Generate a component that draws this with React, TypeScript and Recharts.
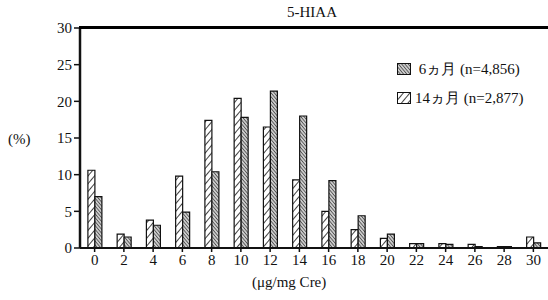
import { BarChart, Bar, XAxis, YAxis } from 'recharts'

// x categories (μg/mg Cre)
const categories = ['0', '2', '4', '6', '8', '10', '12', '14', '16', '18', '20', '22', '24', '26', '28', '30']
// 14ヵ月 (hatched, left bar)
const month14 = [10.6, 1.9, 3.8, 9.8, 17.4, 20.4, 16.5, 9.3, 5.0, 2.5, 1.3, 0.6, 0.6, 0.5, 0.2, 1.5]
// 6ヵ月 (dense, right bar)
const month6 = [7.0, 1.5, 3.1, 4.9, 10.4, 17.8, 21.4, 18.0, 9.2, 4.4, 1.9, 0.6, 0.5, 0.2, 0.2, 0.7]
const yTicks = [0, 5, 10, 15, 20, 25, 30]

const data = categories.map((c, i) => ({ cat: c, m14: month14[i], m6: month6[i] }))

const FONT = '"Liberation Serif", "DejaVu Serif", serif'

function LegendBox() {
  const row = { display: 'flex', alignItems: 'center', gap: 4, height: 20 }
  const swatch = { width: 14, height: 12 }
  return (
    <div style={{ position: 'absolute', left: 397, top: 59, fontFamily: FONT, fontSize: 15, color: '#111' }}>
      <div style={row}>
        <svg style={swatch}>
          <rect x={0.5} y={0.5} width={13} height={11} fill="url(#dense)" stroke="#111" />
        </svg>
        <span>&nbsp;6ヵ月 (n=4,856)</span>
      </div>
      <div style={{ ...row, marginTop: 9 }}>
        <svg style={swatch}>
          <rect x={0.5} y={0.5} width={13} height={11} fill="url(#hatch)" stroke="#111" />
        </svg>
        <span>14ヵ月 (n=2,877)</span>
      </div>
    </div>
  )
}

export default function App() {
  return (
    <div style={{ position: 'absolute', left: 0, top: 0, width: 548, height: 300, background: '#fff', fontFamily: FONT }}>
      <BarChart
        width={548}
        height={300}
        data={data}
        margin={{ top: 28, right: 0, bottom: 22, left: 0 }}
        barCategoryGap="27%"
        barGap={0}
        style={{ borderTop: 'none' }}
      >
        <defs>
          <pattern id="hatch" patternUnits="userSpaceOnUse" width={5} height={5} patternTransform="rotate(40)">
            <rect width={5} height={5} fill="#fff" />
            <line x1={0} y1={0} x2={0} y2={5} stroke="#111" strokeWidth={1.6} />
          </pattern>
          <pattern id="dense" patternUnits="userSpaceOnUse" width={2.5} height={2.5} patternTransform="rotate(-40)">
            <rect width={2.5} height={2.5} fill="#ccc" />
            <line x1={0} y1={0} x2={0} y2={2.5} stroke="#222" strokeWidth={1.2} />
          </pattern>
        </defs>
        <XAxis
          dataKey="cat"
          height={30}
          tick={{ fontSize: 15, fill: '#111', fontFamily: FONT }}
          tickLine={{ stroke: '#111', strokeWidth: 1.5 }}
          tickSize={4}
          axisLine={{ stroke: '#111', strokeWidth: 2 }}
        />
        <YAxis
          width={80}
          domain={[0, 30]}
          ticks={yTicks}
          interval={0}
          tick={{ fontSize: 15, fill: '#111', fontFamily: FONT }}
          tickLine={{ stroke: '#111', strokeWidth: 1.5 }}
          tickSize={6}
          axisLine={{ stroke: '#111', strokeWidth: 2.5 }}
        />
        <Bar dataKey="m14" name="14ヵ月" fill="url(#hatch)" stroke="#111" strokeWidth={1.2} isAnimationActive={false} />
        <Bar dataKey="m6" name="6ヵ月" fill="url(#dense)" stroke="#111" strokeWidth={1.2} isAnimationActive={false} />
      </BarChart>
      {/* top frame line */}
      <div
        style={{
          position: 'absolute',
          left: 79,
          top: 26,
          width: 469,
          height: 0,
          borderTop: '3px solid #000',
          zIndex: 10,
          pointerEvents: 'none',
        }}
      />
      <div style={{ position: 'absolute', left: 287, top: 4, fontSize: 15, color: '#111' }}>5-HIAA</div>
      <div style={{ position: 'absolute', left: 8, top: 131, fontSize: 15, color: '#111' }}>(%)</div>
      <div style={{ position: 'absolute', left: 252, top: 274, fontSize: 15, color: '#111' }}>(μg/mg Cre)</div>
      <LegendBox />
    </div>
  )
}
